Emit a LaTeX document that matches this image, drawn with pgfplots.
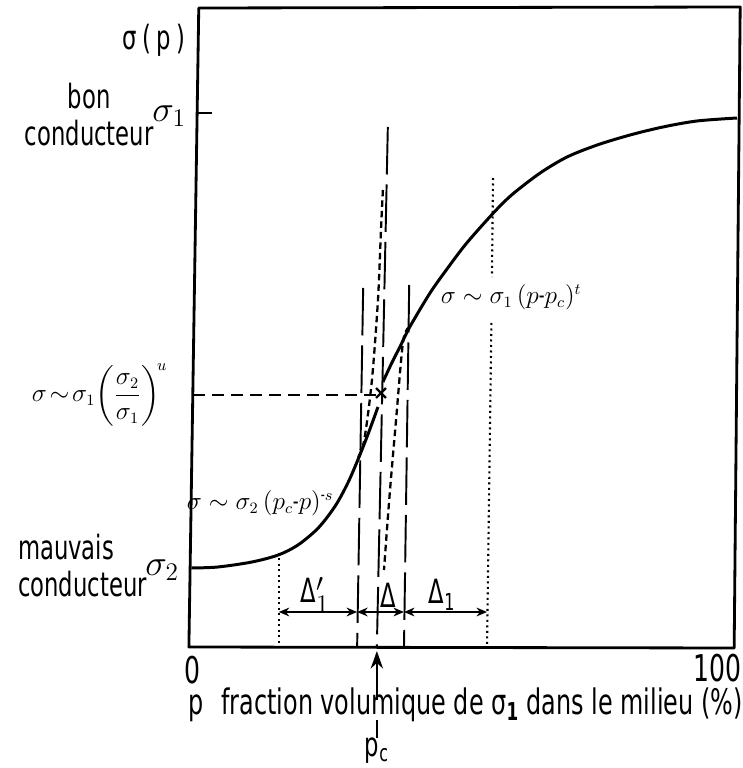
\documentclass[border=0pt]{standalone}
\usepackage{amsmath}
\usepackage{fontspec}
\setmainfont{DejaVu Sans}[FakeStretch=0.68]
\usepackage{pgfplots}
\pgfplotsset{compat=1.18}
\usetikzlibrary{arrows.meta}

\newcommand\lab{\fontsize{19}{21}\selectfont}
\newcommand\xlab{\fontsize{20}{22}\selectfont}
\newcommand\bigf{\fontsize{21}{23}\selectfont}
\newcommand\frm{\fontsize{13.5}{15}\selectfont}

\tikzset{
  curve/.style = {line width=1.7pt, smooth},
  ldash/.style = {line width=1.1pt, dash pattern=on 0.95cm off 0.2cm},
  sdash/.style = {line width=1.3pt, dash pattern=on 0.13cm off 0.08cm},
  hdash/.style = {line width=1.1pt, dash pattern=on 0.24cm off 0.14cm},
  dots/.style  = {line width=1.2pt, dash pattern=on 0.04cm off 0.07cm},
  darr/.style  = {line width=0.9pt, {Stealth[length=6pt,width=5pt]}-{Stealth[length=6pt,width=5pt]}},
}

\begin{document}
\begin{tikzpicture}
\begin{axis}[
  scale only axis, width=14.86cm, height=15.36cm,
  xmin=-34.67, xmax=100.91, ymin=-121, ymax=647,
  hide axis, clip=false,
]
% frame, hand drawn and a little sheared
\addplot[line width=1.6pt, line join=round] coordinates {(-0.2,0)(1.6,639)(100.4,640)(99.3,-1)} -- cycle;
% sigma_1 tick
\addplot[line width=1.2pt] coordinates {(1.5,534)(4.1,534)};

% conductivity curve, below and above p_c
\addplot[curve] coordinates {
  (0.3,79)(5.1,80)(11.3,85)(16.1,92)(19.7,102)(23.4,119)(26.5,141)
  (28.8,164)(30.7,188)(32.5,213)(34.3,240)};
\addplot[curve] coordinates {
  (35.2,265)(36.9,285)(38.3,300)(40.1,320)(43.8,354)(46.9,378)(50.5,404)
  (55.7,436)(58.9,453)(63.9,474)(68.8,490)(74.3,502)(80.3,512)(86.3,520)
  (92.5,526)(99.8,529)};

% power laws carried on towards p_c
\addplot[sdash, smooth] coordinates {(30.7,190)(31.8,207)(33.2,267)(34.3,347)(34.85,417)(35.2,457)};
\addplot[sdash, smooth] coordinates {(40.1,320)(38.9,306)(37.6,227)(36.5,157)(35.8,107)(35.4,77)};

% crossover
\addplot[hdash] coordinates {(0.6,252)(34.0,252)};
\addplot[only marks, mark=x, mark size=4pt, mark options={line width=1.3pt}] coordinates {(34.85,254)};

% limits of the regimes
\addplot[dots] coordinates {(16.2,94)(16.2,0)};
\addplot[ldash] coordinates {(31.6,359)(30.5,0)};
\addplot[ldash] coordinates {(36.1,520)(34.1,0)};
\addplot[ldash] coordinates {(40.0,362)(39.05,0)};
\addplot[dots] coordinates {(55.3,469)(55.1,370)};
\addplot[dots] coordinates {(55.0,324)(54.2,0)};

% widths
\addplot[darr] coordinates {(16.2,35)(30.5,35)};
\addplot[darr] coordinates {(30.5,35)(39.05,35)};
\addplot[darr] coordinates {(39.05,35)(54.2,35)};
\node[font=\lab] at (axis cs:22.8,52) {Δ$'_1$};
\node[font=\lab] at (axis cs:36.1,52) {Δ};
\node[font=\lab] at (axis cs:46.0,52) {Δ\textsubscript{1}};

% p_c marker under the axis
\addplot[line width=1.3pt, -{Stealth[length=10pt,width=7pt]}] coordinates {(34.1,-53)(34.1,-4)};
\addplot[line width=1.1pt] coordinates {(34.1,-73)(34.1,-91)};
\node[font=\lab] at (axis cs:34.1,-104) {p\textsubscript{c}};

% axis texts
\node[anchor=east, font=\lab] at (axis cs:0.3,607) {σ\,(\,p\,)};
\node[align=center, font=\lab] at (axis cs:-18.4,532) {bon\\conducteur};
\node[font=\bigf] at (axis cs:-3.8,531) {$\sigma_1$};
\node[align=left, anchor=west, font=\lab] at (axis cs:-32.5,81) {mauvais\\conducteur};
\node[font=\bigf] at (axis cs:-5.1,77) {$\sigma_2$};
\node[anchor=east, font=\frm] at (axis cs:-3.0,252) {$\sigma\!\sim\!\sigma_1\!\left(\dfrac{\sigma_2}{\sigma_1}\right)^{\!u}$};
\node[font=\frm] at (axis cs:12.8,144) {$\sigma\sim\sigma_2\,(p_c\text{-}p)^{\text{-}s}$};
\node[font=\frm] at (axis cs:58.6,350) {$\sigma\sim\sigma_1\,(p\text{-}p_c)^{t}$};
\node[font=\bigf] at (axis cs:0.5,-23) {0};
\node[font=\bigf] at (axis cs:96.2,-21) {100};
\node[font=\xlab] at (axis cs:50.3,-58) {p\enspace fraction volumique de σ\textsubscript{\textbf{1}} dans le milieu (\%)};

\coordinate (bl) at (axis cs:-34.67,-121);
\coordinate (tr) at (axis cs:100.91,647);
\end{axis}
\pgfresetboundingbox
\path[use as bounding box] (bl) rectangle (tr);
\end{tikzpicture}
\end{document}
